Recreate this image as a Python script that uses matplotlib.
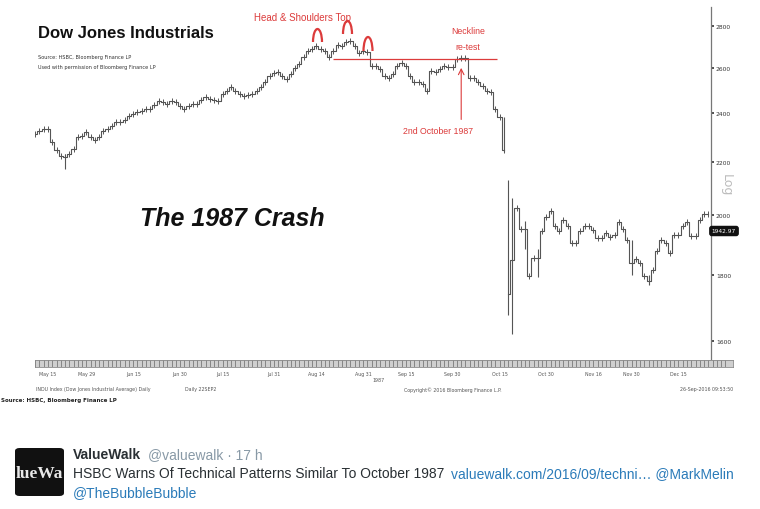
import pandas as pd
import matplotlib
matplotlib.use("Agg")
import matplotlib.pyplot as plt
from matplotlib import font_manager
from matplotlib.patches import Arc, FancyBboxPatch

W, H = 760, 510

# --- data ---
holidays = ["1987-05-25", "1987-07-03", "1987-09-07", "1987-11-26", "1987-12-25"]
trading_days = pd.date_range("1987-05-12", "1987-12-31",
                             freq=pd.offsets.CustomBusinessDay(holidays=holidays))

closes = [
    2311, 2324, 2332, 2332, 2279, 2245, 2222, 2218, 2230, 2250,
    2299, 2303, 2320, 2299, 2287, 2299, 2324, 2332, 2343, 2362,
    2362, 2370, 2387, 2395, 2403, 2408, 2416, 2416, 2435, 2451,
    2446, 2438, 2449, 2446, 2429, 2416, 2429, 2438, 2438, 2455,
    2468, 2459, 2455, 2451, 2481, 2495, 2513, 2495, 2480, 2472,
    2476, 2481, 2495, 2513, 2535, 2560, 2575, 2580, 2562, 2549,
    2571, 2600, 2615, 2650, 2678, 2688, 2702, 2688, 2680, 2650,
    2680, 2705, 2702, 2721, 2726, 2702, 2670, 2678, 2673, 2610,
    2608, 2594, 2560, 2553, 2571, 2608, 2620, 2610, 2560, 2535,
    2535, 2526, 2495, 2585, 2580, 2594, 2608, 2604, 2604, 2641,
    2645, 2645, 2555, 2555, 2535, 2517, 2495, 2491, 2416, 2380,
    2247, 1739, 1847, 2027, 1954, 1954, 1796, 1854, 1854, 1944,
    1996, 2017, 1964, 1947, 1985, 1964, 1904, 1905, 1944, 1964,
    1964, 1950, 1920, 1920, 1937, 1925, 1930, 1978, 1954, 1914,
    1837, 1850, 1837, 1796, 1780, 1815, 1877, 1914, 1904, 1870,
    1930, 1930, 1961, 1978, 1927, 1927, 1985, 2006, 2006,
]

# days with a visibly long high-low bar
range_days = ["1987-05-21", "1987-10-16", "1987-10-19", "1987-10-20",
              "1987-10-23", "1987-10-28", "1987-11-30", "1987-12-04"]
range_high = [2232, 2380, 2130, 2062, 1981, 1884, 1914, 1800]
range_low = [2172, 2240, 1675, 1620, 1885, 1793, 1800, 1766]

neckline = 2641
neck_start, neck_end = "1987-08-20", "1987-10-14"
oct2 = "1987-10-02"

tick_dates = ["1987-05-15", "1987-05-29", "1987-06-15", "1987-06-30", "1987-07-15",
              "1987-07-31", "1987-08-14", "1987-08-31", "1987-09-15", "1987-09-30",
              "1987-10-15", "1987-10-30", "1987-11-16", "1987-11-30", "1987-12-15"]
tick_labels = ["May 15", "May 29", "Jun 15", "Jun 30", "Jul 15", "Jul 31", "Aug 14",
               "Aug 31", "Sep 15", "Sep 30", "Oct 15", "Oct 30", "Nov 16", "Nov 30", "Dec 15"]
y_ticks = [1600, 1800, 2000, 2200, 2400, 2600, 2800]
last_price = "1942.97"

RED = "#dc3b3b"
LINE = "#555555"


def pos(d):
    return trading_days.get_loc(pd.Timestamp(d))


def fx(px):
    return px / W


def fy(py):
    return 1 - py / H


# the chart lettering is condensed; use a narrow face if there is one
installed = {f.name for f in font_manager.fontManager.ttflist}
if "Liberation Sans Narrow" in installed:
    narrow, widen = "Liberation Sans Narrow", 1.2
else:
    narrow, widen = "Liberation Sans", 1.0

# pixel layout of the price axis
PX0, PXD = 35.2, 4.26

fig = plt.figure(figsize=(7.6, 5.1), dpi=100)
ax = fig.add_axes([fx(35), fy(361), (711 - 35) / W, (361 - 8) / H])

idx = list(range(len(closes)))
crash = pos("1987-10-19")
ax.step(idx[:crash], closes[:crash], where="mid", color=LINE, lw=0.8)
ax.step(idx[crash:], closes[crash:], where="mid", color=LINE, lw=0.8)
ax.plot(idx, closes, ls="none", marker="|", ms=4.5, mew=0.7, color=LINE)
ax.vlines([pos(d) for d in range_days], range_low, range_high, color=LINE, lw=0.8)

# neckline and the 2nd October arrow
ax.hlines(neckline, pos(neck_start), pos(neck_end) + 0.5, color=RED, lw=0.9)
ax.annotate("", xy=(pos(oct2), 2612), xytext=(pos(oct2), 2360),
            arrowprops=dict(arrowstyle="->", color=RED, lw=0.8))

ax.set_yscale("log")
ax.set_ylim(1547, 2896)
ax.set_xlim((35 - PX0) / PXD, (711 - PX0) / PXD)
ax.set_yticks(y_ticks)
ax.set_yticklabels([str(v) for v in y_ticks])
ax.yaxis.set_minor_locator(plt.NullLocator())
ax.yaxis.tick_right()
ax.tick_params(axis="y", direction="out", length=2, width=1.2, colors="#333",
               labelsize=4.3, pad=1.5)
ax.set_xticks([])
for s in ["top", "left", "bottom"]:
    ax.spines[s].set_visible(False)
ax.spines["right"].set_color("#777")
ax.spines["right"].set_linewidth(0.9)
ax.patch.set_alpha(0)

# date strip
band = fig.add_axes([fx(35), fy(368), (733 - 35) / W, 7 / H])
band.set_facecolor("#cfcfcf")
band.vlines(range(len(trading_days)), 0, 1, color="#7a7a7a", lw=0.6)
band.set_xlim((35 - PX0) / PXD, (733 - PX0) / PXD)
band.set_ylim(0, 1)
band.set_yticks([])
band.set_xticks([pos(d) for d in tick_dates])
band.set_xticklabels(tick_labels)
band.tick_params(axis="x", length=0, labelsize=3.4, labelcolor="#555", pad=3)
for s in band.spines.values():
    s.set_color("#888")
    s.set_linewidth(0.6)

# chart annotations
fig.text(fx(38), fy(33), "Dow Jones Industrials", family=narrow, weight="bold",
         size=12 * widen, va="center", ha="left", color="#111")
fig.text(fx(38), fy(57), "Source: HSBC, Bloomberg Finance LP", size=3.6, color="#333", va="center")
fig.text(fx(38), fy(67), "Used with permission of Bloomberg Finance LP", size=3.6,
         color="#333", va="center")
fig.text(fx(302), fy(18), "Head & Shoulders Top", family=narrow, size=7 * widen, color=RED,
         ha="center", va="center")
fig.text(fx(468), fy(31), "Neckline", family=narrow, size=6.3 * widen, color=RED,
         ha="center", va="center")
fig.text(fx(468), fy(47), "re-test", family=narrow, size=6.3 * widen, color=RED,
         ha="center", va="center")
fig.text(fx(438), fy(132), "2nd October 1987", family=narrow, size=6.3 * widen, color=RED,
         ha="center", va="center")
fig.text(fx(232), fy(219), "The 1987 Crash", family=narrow, weight="bold", style="italic",
         size=18 * widen, ha="center", va="center", color="#111")

for cx, top, w, h in [(317.5, 30, 9, 13), (347.5, 22, 9, 13), (368, 38, 9, 14)]:
    fig.patches.append(Arc((fx(cx), fy(top + h)), fx(w), 2 * h / H, theta1=0, theta2=180,
                           transform=fig.transFigure, color=RED, lw=1.6))

fig.text(fx(726), fy(185), "Log", size=9, color="#bdbdbd", rotation=-90,
         ha="center", va="center")
fig.text(fx(724), fy(232), last_price, size=4.2, color="white", ha="center", va="center",
         bbox=dict(boxstyle="round,pad=0.35", fc="#111", ec="#111"))

# footer of the terminal screen
fig.text(fx(372), fy(381), "1987", size=3.4, color="#555", va="center")
fig.text(fx(36), fy(390), "INDU Index (Dow Jones Industrial Average) Daily", size=3.4,
         color="#555", va="center")
fig.text(fx(185), fy(390), "Daily 22SEP2", size=3.4, color="#555", va="center")
fig.text(fx(404), fy(390), "Copyright\u00a9 2016 Bloomberg Finance L.P.", size=3.4,
         color="#555", va="center")
fig.text(fx(733), fy(390), "26-Sep-2016 09:53:50", size=3.4, color="#555", va="center", ha="right")
fig.text(fx(1), fy(401), "Source: HSBC, Bloomberg Finance LP", size=4.0, color="#222",
         va="center", weight="bold")

# tweet
box = FancyBboxPatch((fx(15), fy(497)), fx(49), 48 / H, boxstyle="round,pad=0,rounding_size=0.006",
                     transform=fig.transFigure, fc="#111", ec="none")
fig.patches.append(box)
fig.text(fx(39.5), fy(474), "lueWa", family="Liberation Serif", weight="bold", size=12.5,
         color="#e8e8e8", ha="center", va="center")

sans = ["Liberation Sans", "DejaVu Sans"]
fig.text(fx(73), fy(455), "ValueWalk", family=sans, weight="bold", size=10,
         color="#292f33", va="center")
fig.text(fx(148), fy(455), "@valuewalk \u00b7 17 h", family=sans, size=10, color="#8899a6",
         va="center")
fig.text(fx(73), fy(474), "HSBC Warns Of Technical Patterns Similar To October 1987",
         family=sans, size=10, color="#292f33", va="center")
fig.text(fx(451), fy(474), "valuewalk.com/2016/09/techni\u2026 @MarkMelin", family=sans,
         size=10, color="#2b7bb9", va="center")
fig.text(fx(73), fy(493), "@TheBubbleBubble", family=sans, size=10, color="#2b7bb9", va="center")

fig.savefig("out.png", dpi=100, facecolor="white")
